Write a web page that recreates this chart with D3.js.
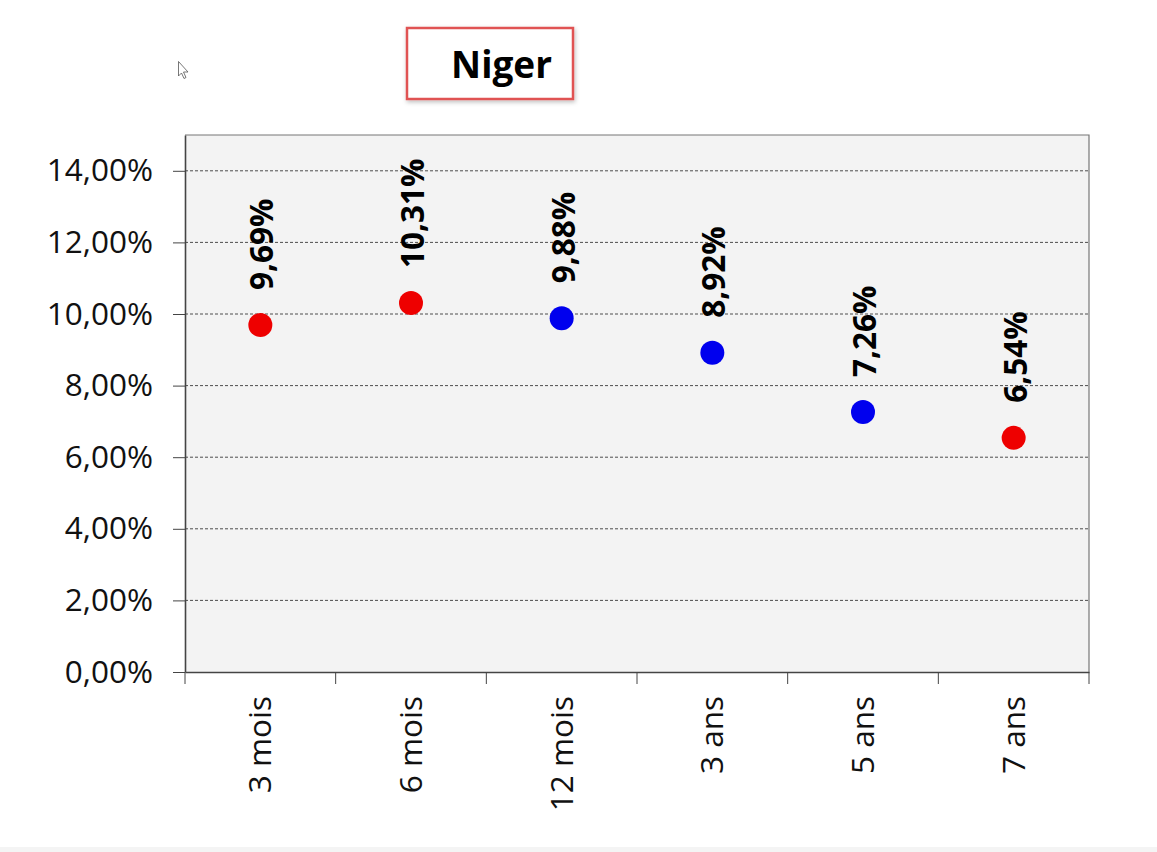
<!DOCTYPE html>
<html><head><meta charset="utf-8">
<script src="https://cdn.jsdelivr.net/npm/d3@7"></script>
<style>body{margin:0;background:#fff;}svg{display:block;font-family:"Open Sans",sans-serif;}</style>
</head><body>
<svg id="c" width="1157" height="852"></svg>
<script>
const categories = ["3 mois","6 mois","12 mois","3 ans","5 ans","7 ans"];
const values = [9.69, 10.31, 9.88, 8.92, 7.26, 6.54];
const colors = ["#ee0000","#ee0000","#0000ee","#0000ee","#0000ee","#ee0000"];
const yTicks = [0,2,4,6,8,10,12,14];
const title = "Niger";

const svg = d3.select("#c");
const L=185, R=1089, T=135, B=672;
const x = d3.scaleBand().domain(categories).range([L,R]);
const y = d3.scaleLinear().domain([0,15]).range([B,T]);
const fmt = v => v.toFixed(2).replace(".",",") + "%";

svg.append("rect").attr("x",L).attr("y",T).attr("width",R-L).attr("height",B-T).attr("fill","#f3f3f3");
// grid
svg.append("g").selectAll("line").data(yTicks.filter(d=>d>0)).join("line")
  .attr("x1",L).attr("x2",R).attr("y1",d=>y(d)).attr("y2",d=>y(d))
  .attr("stroke","#222").attr("stroke-width",0.8).attr("stroke-dasharray","3,2");
// frame top/right
svg.append("path").attr("d",`M${L},${T}H${R}V${B}`).attr("fill","none").attr("stroke","#777").attr("stroke-width",1.2);
// y axis
const ya = svg.append("g").attr("transform",`translate(${L},0)`)
  .call(d3.axisLeft(y).tickValues(yTicks).tickSizeInner(12).tickSizeOuter(0).tickPadding(20).tickFormat(fmt));
ya.select(".domain").attr("stroke","#444").attr("stroke-width",1.6);
ya.selectAll(".tick line").attr("stroke","#444").attr("stroke-width",1);
ya.selectAll("text").attr("font-size",31.5).attr("fill","#111").attr("font-family","Open Sans");
// x axis
const xa = svg.append("g").attr("transform",`translate(0,${B})`)
  .call(d3.axisBottom(x).tickSize(0).tickFormat(""));
xa.select(".domain").attr("stroke","#444").attr("stroke-width",1.6);
svg.append("g").selectAll("line").data(categories.map((c,i)=>x(c)).concat([R])).join("line")
  .attr("x1",d=>d).attr("x2",d=>d).attr("y1",B).attr("y2",B+12).attr("stroke","#444").attr("stroke-width",1);
svg.append("g").selectAll("text").data(categories).join("text")
  .attr("transform",d=>`translate(${x(d)+x.bandwidth()/2},${B+24}) rotate(-90)`)
  .attr("text-anchor","end").attr("dy","0.35em").attr("font-size",31.5).attr("fill","#111").text(d=>d);
// points
svg.append("g").selectAll("circle").data(values).join("circle")
  .attr("cx",(d,i)=>x(categories[i])+x.bandwidth()/2).attr("cy",d=>y(d)).attr("r",12)
  .attr("fill",(d,i)=>colors[i]);
// labels
svg.append("g").selectAll("text").data(values).join("text")
  .attr("transform",(d,i)=>`translate(${x(categories[i])+x.bandwidth()/2+2},${y(d)-35}) rotate(-90)`)
  .attr("dy","0.35em").attr("font-size",31.5).attr("font-weight","bold").attr("fill","#000").text(d=>fmt(d));
// title box
const defs = svg.append("defs");
const f = defs.append("filter").attr("id","sh").attr("x","-10%").attr("y","-10%").attr("width","130%").attr("height","140%");
f.append("feDropShadow").attr("dx",1).attr("dy",2).attr("stdDeviation",2).attr("flood-color","#000").attr("flood-opacity",0.25);
svg.append("rect").attr("x",407).attr("y",28).attr("width",166).attr("height",71)
  .attr("fill","#fff").attr("stroke","#e05353").attr("stroke-width",2.5).attr("filter","url(#sh)");
svg.append("text").attr("x",552).attr("y",78).attr("text-anchor","end").attr("font-size",37)
  .attr("font-weight","bold").attr("fill","#000").text(title);
// cursor artifact
svg.append("path").attr("d","M178.5,61.5 L178.5,76 L181.5,73 L184,78.5 L186,77.5 L183.5,72 L188,72 Z")
  .attr("fill","#fff").attr("stroke","#555").attr("stroke-width",0.8);
// bottom band
svg.append("rect").attr("x",0).attr("y",847).attr("width",1157).attr("height",5).attr("fill","#f4f4f4");
</script>
</body></html>
